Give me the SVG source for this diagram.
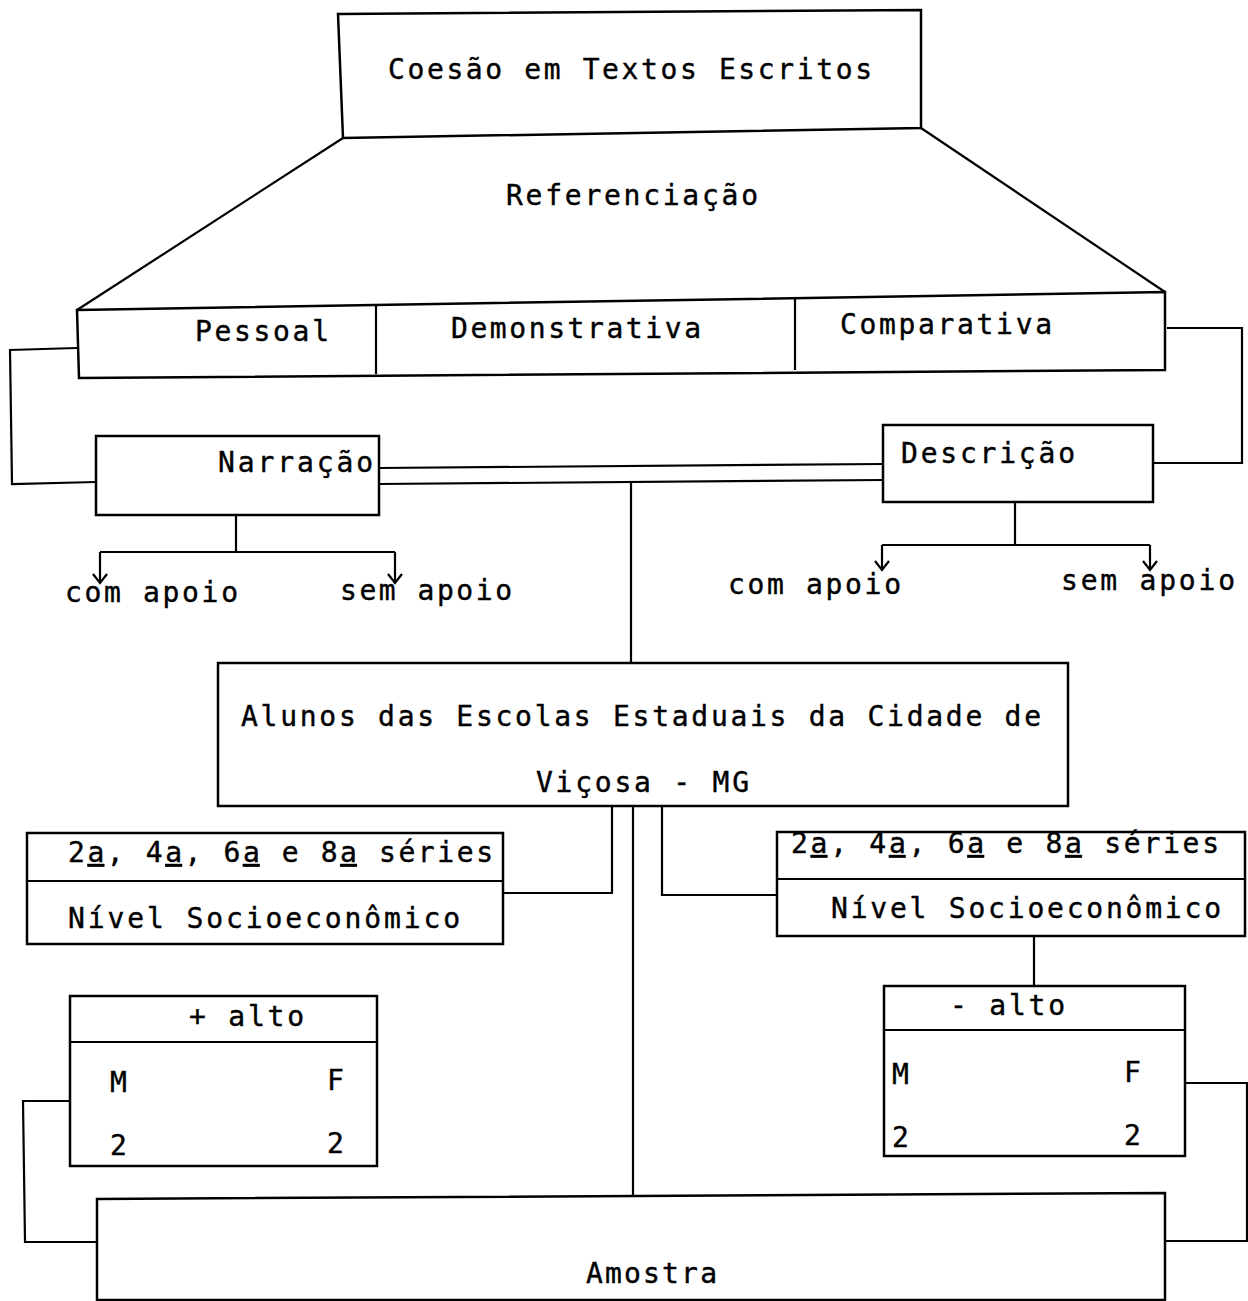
<svg xmlns="http://www.w3.org/2000/svg" width="1248" height="1301" viewBox="0 0 1248 1301">
<style>
.b{fill:none;stroke:#000;stroke-width:2.5;stroke-linejoin:miter}
.c{fill:none;stroke:#000;stroke-width:2.2}
text{font-family:"DejaVu Sans Mono","Liberation Mono",monospace;font-size:28px;fill:#000;stroke:#000;stroke-width:0.4}
.u{text-decoration:underline}
</style>
<defs>
<marker id="v" viewBox="-10 -10 20 20" refX="0" refY="0" markerWidth="20" markerHeight="20" markerUnits="userSpaceOnUse" orient="auto" overflow="visible">
<path d="M-9,-7 L0,0 L-9,7" fill="none" stroke="#000" stroke-width="2.2"/>
</marker>
</defs>
<rect width="1248" height="1301" fill="#fff"/>

<g id="connectors">
<path class="c" d="M343,138 L77,310"/>
<path class="c" d="M921,128 L1165,292"/>
<path class="c" d="M77,348 L10,350 L12,484 L96,482"/>
<path class="c" d="M1167,328 L1242,328 L1242,463 L1153,463"/>
<path class="c" d="M379,468 L883,464"/>
<path class="c" d="M379,484 L883,480"/>
<path class="c" d="M631,482 L631,663"/>
<path class="c" d="M236,515 L236,552"/>
<path class="c" d="M100,552 L395,552"/>
<path class="c" d="M100,552 L100,583" marker-end="url(#v)"/>
<path class="c" d="M395,552 L395,583" marker-end="url(#v)"/>
<path class="c" d="M1015,502 L1015,545"/>
<path class="c" d="M882,545 L1150,545"/>
<path class="c" d="M882,545 L882,570" marker-end="url(#v)"/>
<path class="c" d="M1150,545 L1150,570" marker-end="url(#v)"/>
<path class="c" d="M612,806 L612,893 L503,893"/>
<path class="c" d="M633,806 L633,1196"/>
<path class="c" d="M662,806 L662,895 L777,895"/>
<path class="c" d="M1034,936 L1034,986"/>
<path class="c" d="M70,1101 L23,1101 L25,1242 L97,1242"/>
<path class="c" d="M1185,1083 L1247,1083 L1247,1241 L1165,1241"/>
</g>

<g id="n-coesao">
<path class="b" d="M338,14 L921,10 L921,128 L343,138 Z"/>
<text x="388" y="79" textLength="484" lengthAdjust="spacing">Coesão em Textos Escritos</text>
</g>
<g id="n-referenciacao">
<text x="506" y="205" textLength="252" lengthAdjust="spacing">Referenciação</text>
</g>
<g id="n-tipos">
<path class="b" d="M77,310 L1165,292 L1165,370 L79,378 Z"/>
<path class="c" d="M376,306 L376,374"/>
<path class="c" d="M795,298 L795,370"/>
<text x="195" y="341" textLength="134" lengthAdjust="spacing">Pessoal</text>
<text x="451" y="338" textLength="250" lengthAdjust="spacing">Demonstrativa</text>
<text x="840" y="334" textLength="212" lengthAdjust="spacing">Comparativa</text>
</g>
<g id="n-narracao">
<rect class="b" x="96" y="436" width="283" height="79"/>
<text x="218" y="472" textLength="155" lengthAdjust="spacing">Narração</text>
</g>
<g id="n-descricao">
<rect class="b" x="883" y="425" width="270" height="77"/>
<text x="901" y="463" textLength="174" lengthAdjust="spacing">Descrição</text>
</g>
<g id="n-narr-com">
<text x="65" y="602" textLength="173" lengthAdjust="spacing">com apoio</text>
</g>
<g id="n-narr-sem">
<text x="340" y="600" textLength="172" lengthAdjust="spacing">sem apoio</text>
</g>
<g id="n-desc-com">
<text x="728" y="594" textLength="173" lengthAdjust="spacing">com apoio</text>
</g>
<g id="n-desc-sem">
<text x="1061" y="590" textLength="174" lengthAdjust="spacing">sem apoio</text>
</g>
<g id="n-alunos">
<rect class="b" x="218" y="663" width="850" height="143"/>
<text x="241" y="726" textLength="800" lengthAdjust="spacing">Alunos das Escolas Estaduais da Cidade de</text>
<text x="536" y="792" textLength="213" lengthAdjust="spacing">Viçosa - MG</text>
</g>
<g id="n-series-left">
<rect class="b" x="27" y="833" width="476" height="111"/>
<path class="c" d="M27,881 L503,881"/>
<text x="68" y="862" textLength="425" lengthAdjust="spacing">2<tspan class="u">a</tspan>, 4<tspan class="u">a</tspan>, 6<tspan class="u">a</tspan> e 8<tspan class="u">a</tspan> séries</text>
<text x="68" y="928" textLength="392" lengthAdjust="spacing">Nível Socioeconômico</text>
</g>
<g id="n-series-right">
<rect class="b" x="777" y="832" width="468" height="104"/>
<path class="c" d="M777,879 L1245,879"/>
<text x="791" y="853" textLength="428" lengthAdjust="spacing">2<tspan class="u">a</tspan>, 4<tspan class="u">a</tspan>, 6<tspan class="u">a</tspan> e 8<tspan class="u">a</tspan> séries</text>
<text x="831" y="918" textLength="390" lengthAdjust="spacing">Nível Socioeconômico</text>
</g>
<g id="n-mais-alto">
<rect class="b" x="70" y="996" width="307" height="170"/>
<path class="c" d="M70,1042 L377,1042"/>
<text x="189" y="1026" textLength="115" lengthAdjust="spacing">+ alto</text>
<text x="110" y="1092">M</text>
<text x="327" y="1090">F</text>
<text x="110" y="1155">2</text>
<text x="327" y="1153">2</text>
</g>
<g id="n-menos-alto">
<rect class="b" x="884" y="986" width="301" height="170"/>
<path class="c" d="M884,1030 L1185,1030"/>
<text x="950" y="1015" textLength="115" lengthAdjust="spacing">- alto</text>
<text x="892" y="1084">M</text>
<text x="1124" y="1082">F</text>
<text x="892" y="1147">2</text>
<text x="1124" y="1145">2</text>
</g>
<g id="n-amostra">
<path class="b" d="M97,1199 L1165,1193 L1165,1300 L97,1300 Z"/>
<text x="586" y="1283" textLength="131" lengthAdjust="spacing">Amostra</text>
</g>
</svg>
